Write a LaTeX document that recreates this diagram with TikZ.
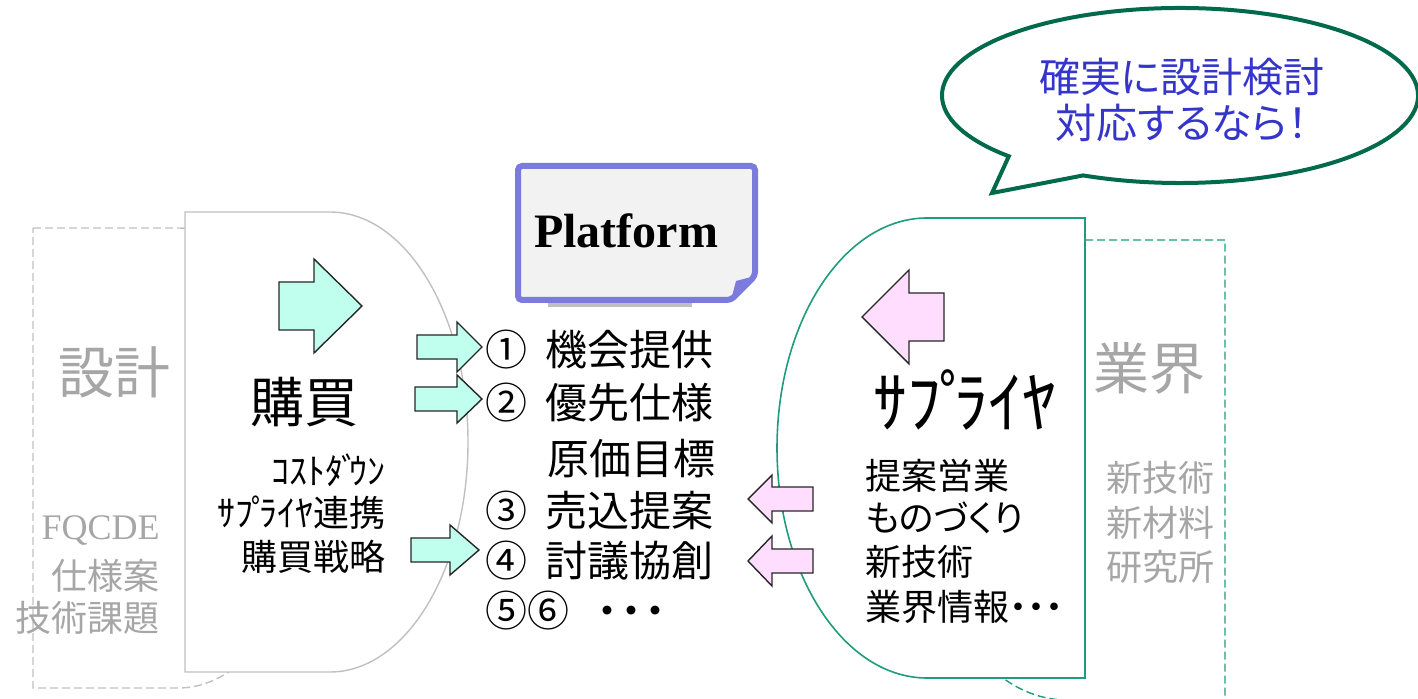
\documentclass[tikz,border=0pt]{standalone}
\usepackage{fontspec}
\usepackage{tikz}
\newfontfamily\jpfont[RawFeature=+palt]{Noto Sans CJK JP}
\newfontfamily\serfont{Liberation Serif}
\definecolor{txtgray}{HTML}{A6A6A6}
\definecolor{linegray}{HTML}{C0C0C0}
\definecolor{supgreen}{HTML}{1E9C7C}
\definecolor{callgreen}{HTML}{006A4B}
\definecolor{callblue}{HTML}{3535CC}
\definecolor{platblue}{HTML}{7B7BDD}
\definecolor{platfill}{HTML}{F2F2F2}
\definecolor{cyanfill}{HTML}{C0FFEE}
\definecolor{pinkfill}{HTML}{FFDDFF}
\newcommand{\fsz}[1]{\fontsize{#1}{1.2\dimexpr#1pt\relax}\selectfont}
% block arrow: style, tail x, head x, tip x, mid y, half shaft, half head
\newcommand{\blockarr}[7]{%
	\draw[#1] (#2,#5-#6) -- (#3,#5-#6) -- (#3,#5-#7) -- (#4,#5) -- (#3,#5+#7) -- (#3,#5+#6) -- (#2,#5+#6) -- cycle;}

\begin{document}
\begin{tikzpicture}[x=0.5pt,y=-0.5pt,
	dshape/.style={dash pattern=on 4pt off 2pt, line width=.7pt},
	blk/.style={draw=black!85, line width=.7pt, line join=miter},
	grey/.style={text=txtgray, inner sep=0pt},
	word/.style={text=black, inner sep=0pt},
	]
	\useasboundingbox (0,0) rectangle (1418,699);

	% dashed outlines behind
	\draw[linegray, dshape] (33,228) -- (178,228) .. controls (254,228) and (316,331) .. (316,458) .. controls (316,585) and (254,688) .. (178,688) -- (33,688) -- cycle;
	\draw[supgreen, dshape] (1225,240) -- (1067,240) .. controls (984,240) and (917,343) .. (917,470) .. controls (917,597) and (984,700) .. (1067,700) -- (1225,700) -- cycle;

	% purchasing / supplier shapes
	\draw[linegray, line width=.7pt, fill=white] (185,212) -- (330,212) .. controls (406,212) and (468,315) .. (468,442) .. controls (468,569) and (406,672) .. (330,672) -- (185,672) -- cycle;
	\draw[supgreen, line width=.8pt, fill=white] (1085,218) -- (927,218) .. controls (844,218) and (777,321) .. (777,448) .. controls (777,575) and (844,678) .. (927,678) -- (1085,678) -- cycle;

	% platform sheet
	\fill[black!25] (548,300) rectangle (692,307);
	\draw[platblue, line width=3pt, fill=platfill, rounded corners=2pt] (518,166) -- (755,166) -- (755,276) -- (731,300) -- (518,300) -- cycle;
	\fill[platblue] (731,300) -- (736,281) -- (755,276) -- cycle;
	\node[word, font=\serfont\bfseries\fsz{24}] (plat) at (626,231) {Platform};

	% speech bubble
	\draw[callgreen, line width=2pt, fill=white] (1180,95.5) ++(114:238 and 87.5) arc[start angle=114, end angle=-224, x radius=238, y radius=87.5] -- (992,193) -- cycle;
	\node[text=callblue, inner sep=0pt, align=center, font=\jpfont\fontsize{20.5}{23}\selectfont] (bubble) at (1182,100) {確実に設計検討\\対応するなら！};

	% left side
	\node[grey, font=\jpfont\fsz{28}] (sekkei) at (114,372) {設計};
	\node[grey, anchor=east, font=\serfont\fsz{18}] (fqcde) at (160,530) {FQCDE};
	\node[grey, anchor=east, font=\jpfont\fsz{18}] (shiyo) at (160,576) {仕様案};
	\node[grey, anchor=east, font=\jpfont\fsz{18}] (kadai) at (160,618) {技術課題};

	\node[word, font=\jpfont\fsz{27}] (kobai) at (304,402) {購買};
	\node[word, anchor=east, font=\jpfont\fsz{18}] (cost) at (386,470) {ｺｽﾄﾀ\kern-.04emﾞ\kern-.28emｳﾝ};
	\node[word, anchor=east, font=\jpfont\fsz{18}] (renkei) at (386,513) {ｻﾌ\kern-.04emﾟ\kern-.28emﾗｲﾔ連携};
	\node[word, anchor=east, font=\jpfont\fsz{18}] (senryaku) at (386,557) {購買戦略};

	% middle list
	\node[word, anchor=west, font=\jpfont\fsz{21}] (l1) at (485,350) {① \kern.2em機会提供};
	\node[word, anchor=west, font=\jpfont\fsz{21}] (l2) at (485,403) {② \kern.2em優先仕様};
	\node[word, anchor=west, font=\jpfont\fsz{21}] (l2b) at (547,459) {原価目標};
	\node[word, anchor=west, font=\jpfont\fsz{21}] (l3) at (485,511) {③ \kern.2em売込提案};
	\node[word, anchor=west, font=\jpfont\fsz{21}] (l4) at (485,561) {④ \kern.2em討議協創};
	\node[word, anchor=west, font=\jpfont\fsz{21}] (l5) at (485,611) {⑤⑥\ \ \kern.2em・\kern.08em・\kern.08em・};

	% right side
	\node[word, font=\jpfont\fsz{34}] (sup) at (965,400) {ｻﾌ\kern-.04emﾟ\kern-.28emﾗｲﾔ};
	\node[word, anchor=west, font=\jpfont\fsz{18}] (r1) at (865,476) {提案営業};
	\node[word, anchor=west, font=\jpfont\fsz{18}] (r2) at (865,518) {ものづくり};
	\node[word, anchor=west, font=\jpfont\fsz{18}] (r3) at (865,562) {新技術};
	\node[word, anchor=west, font=\jpfont\fsz{18}] (r4) at (865,607) {業界情報・・・};

	\node[grey, font=\jpfont\fsz{28}] (gyokai) at (1149,368) {業界};
	\node[grey, anchor=west, font=\jpfont\fsz{18}] (g1) at (1106,478) {新技術};
	\node[grey, anchor=west, font=\jpfont\fsz{18}] (g2) at (1106,523) {新材料};
	\node[grey, anchor=west, font=\jpfont\fsz{18}] (g3) at (1106,567) {研究所};

	% arrows
	\blockarr{blk, fill=cyanfill}{279}{314}{362}{306}{24}{47}
	\blockarr{blk, fill=cyanfill}{417}{457}{482}{347}{12}{25}
	\blockarr{blk, fill=cyanfill}{415}{457}{482}{399}{12}{24}
	\blockarr{blk, fill=cyanfill}{411}{450}{479}{550}{12}{25}
	\blockarr{blk, fill=pinkfill}{944}{909}{862}{317}{24}{47}
	\blockarr{blk, fill=pinkfill}{813}{772}{748}{499}{12}{24}
	\blockarr{blk, fill=pinkfill}{813}{772}{748}{561}{12}{25}

\end{tikzpicture}
\end{document}
